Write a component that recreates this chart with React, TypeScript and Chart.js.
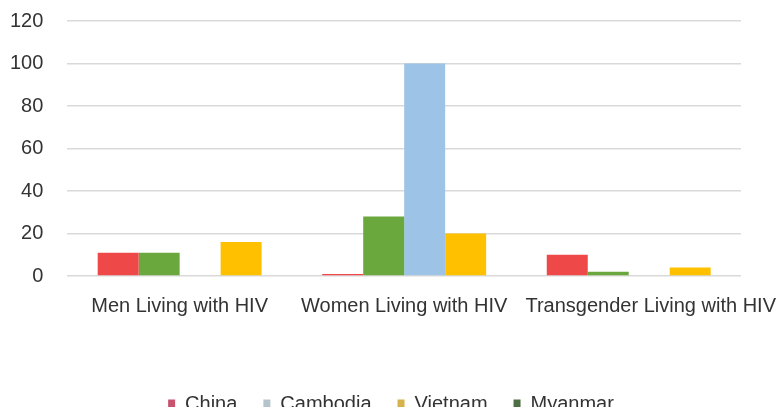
import React, { useEffect, useRef } from "react";
import { Chart, registerables } from "chart.js";

Chart.register(...registerables);

const categories = ["Men Living with HIV", "Women Living with HIV", "Transgender Living with HIV"];
const seriesNames = ["China", "Myanmar", "Cambodia", "Vietnam"];
const chinaValues = [11, 1, 10];
const myanmarValues = [11, 28, 2];
const cambodiaValues = [0, 100, 0];
const vietnamValues = [16, 20, 4];
const barColors = ["#EE4848", "#6AA83E", "#9DC3E6", "#FFC000"];
const legendColors = ["#C85470", "#4E6E44", "#B4C4CA", "#D6B24A"];
const legendOrder = ["China", "Cambodia", "Vietnam", "Myanmar"];
const yTicks = [0, 20, 40, 60, 80, 100, 120];

const Y_TICK_PAD = 24;

const layoutTweaks = {
  id: "layoutTweaks",
  afterLayout(chart: any) {
    if (chart.legend) {
      chart.legend.left = 0;
      chart.legend.right = chart.width;
      chart.legend.width = chart.width;
    }
  },
  beforeDraw(chart: any) {
    const xs = chart.scales.x;
    if (!xs) return;
    const items = xs.getLabelItems(chart.chartArea);
    if (items && items.length === 3 && !items[2].__shifted) {
      items[2].options.translation[0] += 22;
      items[2].__shifted = true;
    }
  },
};

export default function App() {
  const ref = useRef<HTMLCanvasElement | null>(null);

  useEffect(() => {
    if (!ref.current) return;
    const values = [chinaValues, myanmarValues, cambodiaValues, vietnamValues];
    const font = { family: "'Liberation Sans', Arial, sans-serif", size: 20 };
    const chart = new Chart(ref.current, {
      type: "bar",
      data: {
        labels: categories,
        datasets: seriesNames.map((name, i) => ({
          label: name,
          data: values[i],
          backgroundColor: barColors[i],
          borderWidth: 0,
          categoryPercentage: 0.73,
          barPercentage: 1,
        })),
      },
      plugins: [layoutTweaks],
      options: {
        responsive: false,
        animation: false,
        layout: { padding: { top: 21, left: 10, right: 41, bottom: 0 } },
        scales: {
          x: {
            grid: { display: false, drawTicks: false },
            border: { display: false },
            ticks: { color: "#333333", font, padding: 18, maxRotation: 0, autoSkip: false },
            afterFit: (scale: any) => {
              scale.height = 92;
              scale.paddingLeft = 0;
              scale.paddingRight = 0;
            },
          },
          y: {
            min: 0,
            max: 120,
            grid: { color: "#D9D9D9", lineWidth: 1.5, drawTicks: false },
            border: { display: false },
            afterBuildTicks: (scale: any) => {
              scale.ticks = yTicks.map((v) => ({ value: v }));
            },
            afterFit: (scale: any) => {
              scale.width = scale.width - Y_TICK_PAD;
              scale.paddingTop = 0;
              scale.paddingBottom = 0;
            },
            ticks: { color: "#333333", font, padding: Y_TICK_PAD },
          },
        },
        plugins: {
          tooltip: { enabled: false },
          legend: {
            position: "bottom",
            labels: {
              color: "#333333",
              font,
              boxWidth: 7,
              boxHeight: 9,
              padding: 26,
              generateLabels: (chart: any) => {
                const items = Chart.defaults.plugins.legend.labels.generateLabels(chart);
                items.forEach((it: any) => {
                  const idx = seriesNames.indexOf(it.text);
                  it.fillStyle = legendColors[idx];
                  it.strokeStyle = legendColors[idx];
                  it.lineWidth = 0;
                });
                return items;
              },
              sort: (a: any, b: any) => legendOrder.indexOf(a.text) - legendOrder.indexOf(b.text),
            },
          },
        },
      },
    });
    return () => chart.destroy();
  }, []);

  return (
    <div style={{ position: "fixed", left: 0, top: 0, width: 782, height: 407, overflow: "hidden", background: "#fff" }}>
      <canvas ref={ref} width={782} height={424} style={{ display: "block" }} />
    </div>
  );
}
